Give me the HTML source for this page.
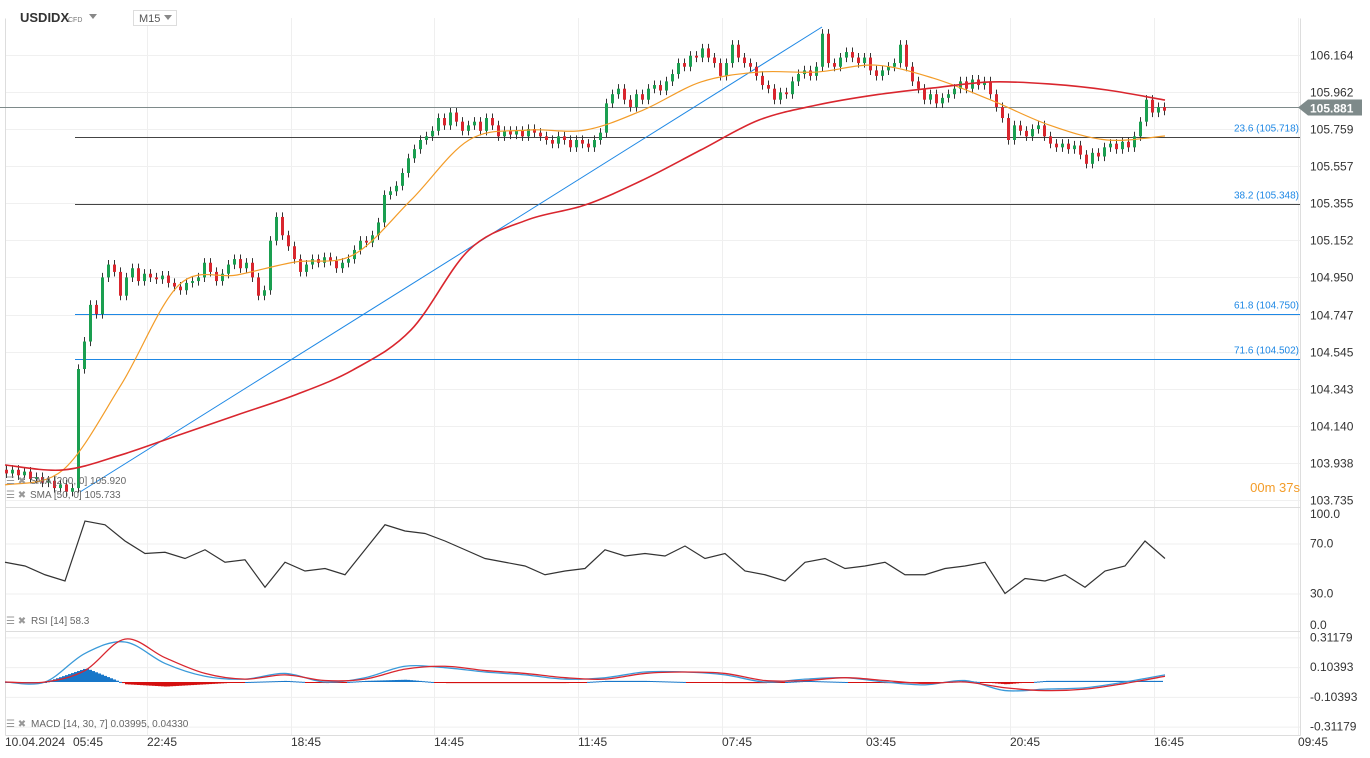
<!DOCTYPE html>
<html><head><meta charset="utf-8"><style>
body{margin:0;background:#fff;font-family:"Liberation Sans",sans-serif;}
svg{display:block}
</style></head><body>
<svg id="chart" width="1370" height="758" xmlns="http://www.w3.org/2000/svg" font-family="Liberation Sans, sans-serif">
<g id="grid"></g>
<g id="main"></g>
<g id="rsi"></g>
<g id="macd"></g>
<g id="axes"></g>
<g>
<text x="20" y="22" font-size="13" font-weight="bold" fill="#333">USDIDX</text>
<text x="68" y="22" font-size="7" fill="#777">CFD</text>
<path d="M89 14 L97 14 L93 19 Z" fill="#888"/>
<rect x="133.5" y="10.5" width="43" height="15" fill="#fff" stroke="#ddd"/>
<text x="139" y="22" font-size="11" fill="#555">M15</text>
<path d="M164 15 L172 15 L168 20 Z" fill="#888"/>
</g>
</svg>
<script>
const closes=[103.88,103.90,103.87,103.89,103.85,103.86,103.83,103.84,103.80,103.82,103.78,103.80,
104.45,104.6,104.8,104.75,104.95,105.02,104.98,104.85,104.95,105.0,104.93,104.97,104.95,104.94,104.96,104.92,104.90,104.88,
104.92,104.93,104.95,105.03,104.98,104.93,104.97,105.02,105.05,105.0,105.03,104.95,104.85,104.88,105.15,105.28,105.18,105.12,105.05,104.98,
105.02,105.05,105.03,105.06,105.04,105.0,105.03,105.05,105.10,105.15,105.14,105.18,105.25,105.40,105.42,105.45,105.52,105.60,105.65,105.70,
105.72,105.75,105.82,105.78,105.85,105.80,105.75,105.78,105.80,105.75,105.82,105.78,105.72,105.75,105.73,105.75,105.72,105.76,105.74,105.72,
105.70,105.68,105.72,105.70,105.66,105.70,105.68,105.66,105.70,105.74,105.90,105.95,105.98,105.92,105.88,105.95,105.92,105.98,106.0,105.97,
106.02,106.06,106.12,106.10,106.16,106.15,106.20,106.15,106.12,106.05,106.12,106.22,106.15,106.12,106.10,106.05,106.0,105.98,105.92,105.96,
105.95,106.02,106.06,106.08,106.05,106.10,106.28,106.12,106.10,106.15,106.18,106.15,106.12,106.15,106.08,106.05,106.08,106.10,106.12,106.22,
106.10,106.02,105.98,105.92,105.95,105.90,105.93,105.95,105.98,106.02,105.98,106.03,106.0,106.02,105.95,105.88,105.82,105.70,105.78,105.75,
105.72,105.76,105.78,105.72,105.68,105.66,105.68,105.65,105.67,105.62,105.57,105.63,105.61,105.66,105.68,105.65,105.69,105.66,105.72,105.80,
105.92,105.85,105.88,105.86];
const sma50=[103.817,103.899,104.363,104.909,104.963,105.034,105.072,105.372,105.700,105.754,105.754,105.863,106.017,106.071,106.071,106.109,106.038,105.918,105.782,105.700,105.722];
const sma200=[103.926,103.899,103.981,104.090,104.199,104.308,104.445,104.663,105.100,105.263,105.345,105.482,105.646,105.809,105.891,105.946,105.984,106.017,106.006,105.973,105.918];
const rsiVals=[55,52,45,40,88,85,72,62,63,58,65,55,57,35,55,48,50,45,65,85,80,78,72,65,58,55,52,45,48,50,65,60,62,60,68,58,62,48,45,40,55,58,50,52,55,45,45,50,52,55,30,42,40,45,35,48,52,72,58];
const macdVals=[0,0,0.2,0.28,0.13,0.04,0.02,0.06,0.0,0.03,0.11,0.10,0.07,0.05,0.02,0.03,0.07,0.07,0.05,0.0,0.02,0.03,0.0,-0.02,0.01,-0.06,-0.05,-0.04,0.0,0.05];
const signalVals=[0,0,0.08,0.30,0.17,0.06,0.02,0.05,0.01,0.02,0.09,0.11,0.08,0.06,0.03,0.02,0.06,0.07,0.06,0.01,0.01,0.03,0.01,-0.01,0.0,-0.04,-0.06,-0.05,-0.01,0.04];
const priceTicks=["106.164","105.962","105.759","105.557","105.355","105.152","104.950","104.747","104.545","104.343","104.140","103.938","103.735"];
const timeLabels=["10.04.2024","05:45","22:45","18:45","14:45","11:45","07:45","03:45","20:45","16:45","09:45"];
const timeLabelX=[5,73,147,291,434,578,722,866,1010,1154,1298];
const fibLevels=[23.6,38.2,61.8,71.6];
const fibPrices=[105.718,105.348,104.750,104.502];
const rsiTicks=["100.0","70.0","30.0","0.0"];
const rsiTickVals=[100,70,30,0];
const macdTicks=["0.31179","0.10393","-0.10393","-0.31179"];
const macdTickVals=[0.31179,0.10393,-0.10393,-0.31179];
const lastPrice=105.881;

const NS="http://www.w3.org/2000/svg";
function mk(tag,attrs,parent,txt){const e=document.createElementNS(NS,tag);for(const k in attrs)e.setAttribute(k,attrs[k]);if(txt!==undefined)e.textContent=txt;parent.appendChild(e);return e;}
const py=p=>55+(106.164-p)*183.2;
const ry=v=>631-1.25*v;
const my=v=>682-143*v;
const cx=i=>5+6*i;
const sx=i=>5+58*i;
const rx=i=>5+20*i;
const mx=i=>5+40*i;
const G=document.getElementById('grid'),M=document.getElementById('main'),R=document.getElementById('rsi'),C=document.getElementById('macd'),A=document.getElementById('axes');

timeLabelX.slice(2).forEach(x=>{const l=mk('line',{x1:x+.5,x2:x+.5,y1:18,y2:735,stroke:'#efefef'},G);

});
priceTicks.forEach(t=>{const y=Math.round(py(+t))+.5;const l=mk('line',{x1:5,x2:1300,y1:y,y2:y,stroke:'#f0f0f0'},G);


const tx=mk('text',{x:1310,y:y+4,'font-size':12,fill:'#333'},A,t);

});
rsiTickVals.forEach((v,i)=>{const y=ry(v);if(v>0&&v<100){const l=mk('line',{x1:5,x2:1300,y1:y+.5,y2:y+.5,stroke:'#efefef'},G);

}
const tx=mk('text',{x:1310,y:Math.min(Math.max(y+4,518),629),'font-size':12,fill:'#333'},A,rsiTicks[i]);

});
macdTickVals.forEach((v,i)=>{const y=my(v);const l=mk('line',{x1:5,x2:1300,y1:y+.5,y2:y+.5,stroke:'#efefef'},G);


const tx=mk('text',{x:1310,y:y+4,'font-size':12,fill:'#333'},A,macdTicks[i]);

});
[[5,5,18,735],[1300,1300,18,735],[5,1300,507,507],[5,1300,631,631],[5,1300,735,735]].forEach(a=>{const l=mk('line',{x1:a[0]+.5,x2:a[1]+.5,y1:a[2]+.5,y2:a[3]+.5,stroke:'#ddd'},G);

});
timeLabels.forEach((t,i)=>{const tx=mk('text',{x:timeLabelX[i],y:746,'font-size':12,fill:'#333'},A,t);

});

let y=Math.round(py(lastPrice))+.5;
let l=mk('line',{x1:0,x2:1300,y1:y,y2:y,stroke:'#7e8a8a'},M);


let tg=mk('path',{d:`M1298 ${y} L1308 ${y-8} L1362 ${y-8} L1362 ${y+8} L1308 ${y+8} Z`,fill:'#7e8a8a'},A);


let tt=mk('text',{x:1310,y:y+5,'font-size':12,'font-weight':'bold',fill:'#fff'},A,lastPrice.toFixed(3));


fibLevels.forEach((f,i)=>{const yy=Math.round(py(fibPrices[i]))+.5;const col=i<2?'#444':'#1e88e5';
const ln=mk('line',{x1:75,x2:1300,y1:yy,y2:yy,stroke:col},M);


const tx=mk('text',{x:1299,y:yy-6,'font-size':10,fill:'#1e88e5','text-anchor':'end'},M,`${f} (${fibPrices[i].toFixed(3)})`);

});
l=mk('line',{x1:80,y1:492,x2:822,y2:27,stroke:'#1e88e5'},M);



closes.forEach((c,i)=>{const o=i?closes[i-1]:c+0.02;const hi=Math.max(o,c)+0.025,lo=Math.min(o,c)-0.025;const x=cx(i);
const g=mk('g',{},M);


mk('line',{x1:x+1.5,x2:x+1.5,y1:py(hi),y2:py(lo),stroke:'#333','stroke-width':1},g);
const col=c>=o?'#1a9f50':'#d9262e';
mk('rect',{x:x,y:py(Math.max(o,c)),width:3,height:Math.max(1,Math.abs(py(o)-py(c))),fill:col},g);});
function smooth(pts){let d=`M${pts[0][0]},${pts[0][1]}`;for(let i=0;i<pts.length-1;i++){const p0=pts[Math.max(0,i-1)],p1=pts[i],p2=pts[i+1],p3=pts[Math.min(pts.length-1,i+2)];
const c1=[p1[0]+(p2[0]-p0[0])/6,p1[1]+(p2[1]-p0[1])/6],c2=[p2[0]-(p3[0]-p1[0])/6,p2[1]-(p3[1]-p1[1])/6];d+=` C${c1[0]},${c1[1]} ${c2[0]},${c2[1]} ${p2[0]},${p2[1]}`;}return d;}
function curve(arr,xf,yf,col,name,parent,w){const p=mk('path',{d:smooth(arr.map((v,i)=>[xf(i),yf(v)])),fill:'none',stroke:col,'stroke-width':w||1.3},parent);

}
function poly(arr,xf,yf,col,name,parent,w){const p=mk('polyline',{points:arr.map((v,i)=>xf(i)+','+yf(v)).join(' '),fill:'none',stroke:col,'stroke-width':w||1.3},parent);

}
curve(sma50,sx,py,'#f39c28','sma50-line',M,1.2);
curve(sma200,sx,py,'#d9262e','sma200-line',M,1.6);
[['SMA  [200,  0]  105.920',484],['SMA  [50,  0]  105.733',498]].forEach(a=>{
const tx=mk('text',{x:30,y:a[1],'font-size':10,fill:'#666'},M,a[0]);


mk('text',{x:6,y:a[1],'font-size':10,fill:'#999'},M,'☰ ✖');});
let cd=mk('text',{x:1300,y:492,'font-size':13,fill:'#f39c28','text-anchor':'end'},M,'00m 37s');



poly(rsiVals,rx,ry,'#333','rsi-line',R,1.2);
let rl=mk('text',{x:31,y:624,'font-size':10,fill:'#666'},R,'RSI  [14]  58.3');


mk('text',{x:6,y:624,'font-size':10,fill:'#999'},R,'☰ ✖');

for(let x=5;x<=1160;x+=3){const f=(x-5)/40,i=Math.min(Math.floor(f),macdVals.length-2),t=f-i;
const h=(macdVals[i]*(1-t)+macdVals[i+1]*t)-(signalVals[i]*(1-t)+signalVals[i+1]*t);
const y0=my(0),y1=my(h*0.8);
const b=mk('rect',{x:x,y:Math.min(y0,y1),width:3,height:Math.max(1,Math.abs(y1-y0)),fill:h>=0?'#1877c9':'#d40f0f'},C);

}
curve(macdVals,mx,my,'#3a9ad9','macd-line',C,1.3);
curve(signalVals,mx,my,'#d9262e','macd-signal-line',C,1.3);
let ml=mk('text',{x:31,y:727,'font-size':10,fill:'#666'},C,'MACD  [14,  30,  7]  0.03995,   0.04330');


mk('text',{x:6,y:727,'font-size':10,fill:'#999'},C,'☰ ✖');
</script>
</body></html>
